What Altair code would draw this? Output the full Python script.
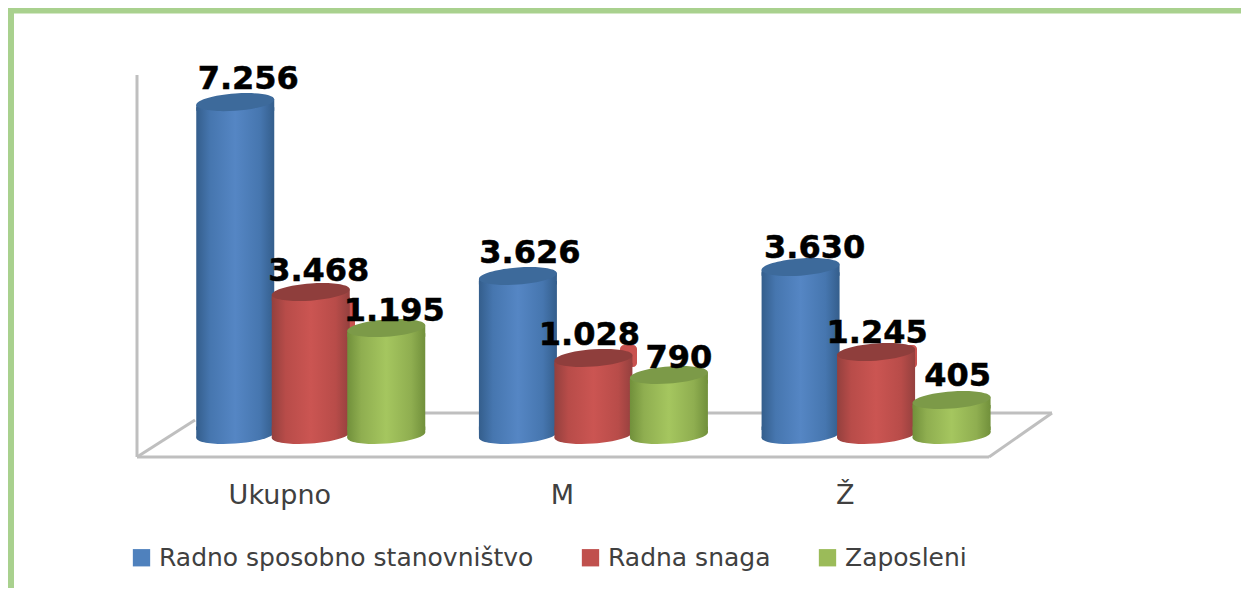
import altair as alt
import pandas as pd

categories = ["Ukupno", "M", "Ž"]
series = ["Radno sposobno stanovništvo", "Radna snaga", "Zaposleni"]
# Printed labels. The reference's cylinder heights do not follow them, so the
# heights are read separately from the picture, in the same units.
printed = {
    series[0]: ["7.256", "3.626", "3.630"],
    series[1]: ["3.468", "1.028", "1.245"],
    series[2]: ["1.195", "790", "405"],
}
drawn = {
    series[0]: [7256, 3465, 3660],
    series[1]: [3115, 1680, 1808],
    series[2]: [2330, 1307, 762],
}
legend_colors = ["#4F81BD", "#C0504D", "#9BBB59"]
body = [("#345E8C", "#4676AF", "#5586C4"), ("#94403E", "#B84C49", "#CB5552"), ("#71903B", "#8FAE50", "#A5C65F")]
cap = ["#3D6A9B", "#8F3E3C", "#7C9A48"]
nudge = {
    series[0]: [(13, -23), (12, -23), (14, -19)],
    series[1]: [(8, -21), (-4, -23), (1, -19)],
    series[2]: [(8, -17), (10, -17), (6, -24)],
}

rows = []
for s in series:
    for c, v, t in zip(categories, drawn[s], printed[s]):
        rows.append({"cat": c, "s": s, "v": v, "t": t, "zero": 0})
df = pd.DataFrame(rows)
one = pd.DataFrame({"a": [0]})

RY = 0.22
SHEAR = 0.07
TRIM = 110  # how far the straight bar stops short of each ellipse, in value units


def ellipse(ry, shear):
    k = 0.5523
    pts = [(-1, 0), (-1, -k * ry), (-k, -ry), (0, -ry), (k, -ry), (1, -k * ry), (1, 0),
           (1, k * ry), (k, ry), (0, ry), (-k, ry), (-1, k * ry), (-1, 0)]
    p = [(round(x, 4), round(y - shear * x, 4)) for x, y in pts]
    seg = " ".join(
        f"C {p[i][0]} {p[i][1]} {p[i+1][0]} {p[i+1][1]} {p[i+2][0]} {p[i+2][1]}"
        for i in range(1, 12, 3)
    )
    return f"M {p[0][0]} {p[0][1]} {seg} Z"


CAP_PATH = ellipse(RY, SHEAR)
# Side pieces that join the flat bar ends to the tilted ellipses.
TOP_JOIN = f"M -1 {SHEAR} L 1 {-SHEAR} L 1 {RY} L -1 {RY} Z"
BOTTOM_JOIN = f"M -1 {SHEAR} L 1 {-SHEAR} L 1 {-RY} L -1 {-RY} Z"

X = alt.X(
    "cat:N",
    sort=categories,
    scale=alt.Scale(domain=categories, range=[161.5, 1009.5], paddingInner=0, paddingOuter=0),
    axis=alt.Axis(title=None, domain=False, ticks=False, labelAngle=0, offset=-106, labelPadding=0,
                  labelOffset=-31, labelFont="DejaVu Sans", labelFontSize=27, labelColor="#404040",
                  labelBaseline="top"),
)
XO = alt.XOffset("s:N", sort=series, scale=alt.Scale(domain=series, range=[28, 254.5]))
yscale = alt.Scale(domain=[0, 8000], range=[427, 60])
Y = alt.Y("v:Q", axis=None, scale=yscale)
base_y = alt.Y("zero:Q", axis=None, scale=yscale)

GREY = "#BFBFBF"


def rule(x, x2, y, y2, w=3):
    return alt.Chart(one).mark_rule(color=GREY, strokeWidth=w).encode(
        x=alt.value(x), x2=alt.value(x2), y=alt.value(y), y2=alt.value(y2))


frame = [
    rule(129, 129, 67, 449),
    rule(129, 981, 449, 449),
    rule(981, 1044, 449, 405),
    rule(200, 1044, 405, 405),
    rule(129, 187, 449, 412),
]
border = [
    alt.Chart(one).mark_rect(color="#A9D18E").encode(
        x=alt.value(0), x2=alt.value(1233), y=alt.value(0), y2=alt.value(5.5)),
    alt.Chart(one).mark_rect(color="#A9D18E").encode(
        x=alt.value(0), x2=alt.value(6), y=alt.value(0), y2=alt.value(580)),
]


def patch(x, x2, y, y2):
    # Smeared red remnants beside the label of each red cylinder in the reference.
    return alt.Chart(one).mark_rect(color="#C9524F", cornerRadius=4).encode(
        x=alt.value(x), x2=alt.value(x2), y=alt.value(y), y2=alt.value(y2))


patches = [patch(330, 347, 292, 322), patch(612, 629, 337, 359), patch(897, 909, 337, 360)]

legend_layer = alt.Chart(df).mark_point(filled=True, opacity=1, size=4, shape="square").encode(
    x=X, xOffset=XO, y=Y,
    color=alt.Color(
        "s:N", sort=series,
        scale=alt.Scale(domain=series, range=legend_colors),
        legend=alt.Legend(
            title=None, orient="none", legendX=121, legendY=537, direction="horizontal",
            symbolType="square", symbolSize=300, symbolStrokeWidth=0, symbolOpacity=1,
            labelFont="DejaVu Sans", labelFontSize=25, labelColor="#404040", labelOffset=5,
            labelLimit=500, columnPadding=44, symbolOffset=0,
        ),
    ),
)

layers = []
for i, s in enumerate(series):
    d = df[df.s == s]
    edge, shoulder, mid = body[i]
    grad = alt.Gradient(
        gradient="linear", x1=0, x2=1, y1=0, y2=0,
        stops=[alt.GradientStop(color=edge, offset=0), alt.GradientStop(color=shoulder, offset=0.18),
               alt.GradientStop(color=mid, offset=0.5), alt.GradientStop(color=shoulder, offset=0.82),
               alt.GradientStop(color=edge, offset=1)],
    )
    sym = dict(filled=True, opacity=1, size=6084, strokeWidth=0)
    enc_top = dict(x=X, xOffset=XO, y=Y)
    enc_base = dict(x=X, xOffset=XO, y=base_y)
    if i == 1:
        layers.extend(patches)
    layers.append(
        alt.Chart(d).transform_calculate(hi=f"datum.v - {TRIM}", lo=f"{TRIM}")
        .mark_bar(width=78, color=grad)
        .encode(x=X, xOffset=XO, y=alt.Y("hi:Q", axis=None, scale=yscale), y2="lo:Q")
    )
    layers.append(alt.Chart(d).mark_point(shape=BOTTOM_JOIN, color=grad, **sym).encode(**enc_base))
    layers.append(alt.Chart(d).mark_point(shape=CAP_PATH, color=grad, **sym).encode(**enc_base))
    layers.append(alt.Chart(d).mark_point(shape=TOP_JOIN, color=grad, **sym).encode(**enc_top))
    layers.append(alt.Chart(d).mark_point(shape=CAP_PATH, color=cap[i], **sym).encode(**enc_top))

texts = []
for s in series:
    d = df[df.s == s]
    for j, c in enumerate(categories):
        dx, dy = nudge[s][j]
        texts.append(
            alt.Chart(d[d.cat == c]).mark_text(
                font="DejaVu Sans", fontWeight="bold", fontSize=32, color="#000000",
                stroke="#000000", strokeWidth=0.5,
                dx=dx, dy=dy, baseline="middle", align="center",
            ).encode(x=X, xOffset=XO, y=Y, text="t:N")
        )

chart = alt.layer(*border, *frame, legend_layer, *layers, *texts).properties(
    width=1233, height=580, padding=0, autosize="none", background="white"
).configure_view(strokeWidth=0)

chart.save("out.html", embed_options={"renderer": "svg", "actions": False})
